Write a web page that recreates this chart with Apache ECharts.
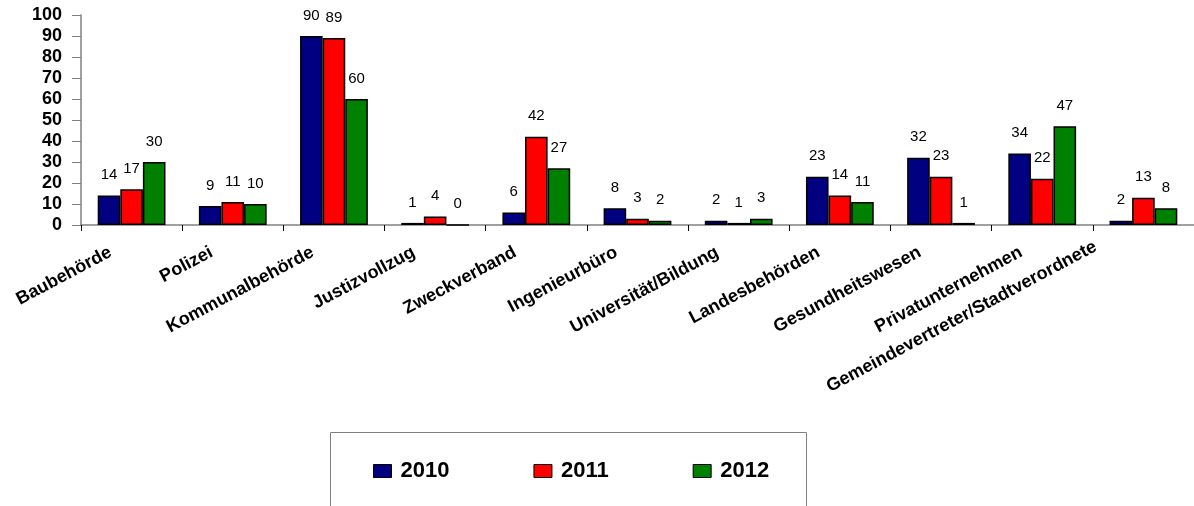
<!DOCTYPE html>
<html>
<head>
<meta charset="utf-8">
<script src="https://cdn.jsdelivr.net/npm/echarts@6/dist/echarts.min.js"></script>
<style>
  html, body { margin: 0; padding: 0; background: #ffffff; }
  #chart { width: 1194px; height: 506px; }
</style>
</head>
<body>
<div id="chart"></div>
<script>
// Categories (x axis)
const categories = [
  'Baubehörde', 'Polizei', 'Kommunalbehörde', 'Justizvollzug', 'Zweckverband',
  'Ingenieurbüro', 'Universität/Bildung', 'Landesbehörden', 'Gesundheitswesen',
  'Privatunternehmen', 'Gemeindevertreter/Stadtverordnete'
];

// Values per year
const values2010 = [14, 9, 90, 1, 6, 8, 2, 23, 32, 34, 2];
const values2011 = [17, 11, 89, 4, 42, 3, 1, 14, 23, 22, 13];
const values2012 = [30, 10, 60, 0, 27, 2, 3, 11, 1, 47, 8];

const seriesNames = ['2010', '2011', '2012'];
const seriesColors = ['#000080', '#FF0000', '#008000'];
const seriesValues = [values2010, values2011, values2012];

const FONT = '"Liberation Sans", Arial, sans-serif';

const chart = echarts.init(document.getElementById('chart'), null, { renderer: 'canvas' });

const series = seriesNames.map((name, i) => ({
  name: name,
  type: 'bar',
  data: seriesValues[i],
  barGap: '0%',
  barCategoryGap: '33%',
  itemStyle: { color: seriesColors[i], borderColor: '#000000', borderWidth: 1.5 },
  label: {
    show: true,
    position: 'top',
    distance: 13,
    color: '#000000',
    fontFamily: FONT,
    fontSize: 15
  },
  emphasis: { disabled: true }
}));

const lastIndex = categories.length - 1;

chart.setOption({
  animation: false,
  backgroundColor: '#ffffff',
  grid: { left: 81, right: 0, top: 15, bottom: 281, containLabel: false },
  legend: {
    data: seriesNames,
    left: 373,
    top: 460,
    padding: 0,
    itemWidth: 18,
    itemHeight: 13,
    itemGap: 84,
    icon: 'rect',
    itemStyle: { borderColor: '#000000', borderWidth: 1 },
    textStyle: { fontFamily: FONT, fontSize: 22, fontWeight: 'bold', color: '#000000', padding: [0, 0, 0, 4] }
  },
  graphic: [{
    type: 'rect',
    shape: { x: 330.5, y: 432.5, width: 476, height: 90 },
    style: { fill: 'none', stroke: '#808080', lineWidth: 1 },
    silent: true,
    z: -1
  }],
  xAxis: {
    type: 'category',
    data: categories,
    axisLine: { show: true, lineStyle: { color: '#808080', width: 1.5 } },
    axisTick: { show: true, alignWithLabel: false, length: 6, lineStyle: { color: '#000000', width: 1 } },
    axisLabel: {
      interval: 0,
      rotate: 28,
      margin: 15,
      padding: [0, 24, 0, 0],
      color: '#000000',
      fontFamily: FONT,
      fontSize: 18,
      fontWeight: 'bold',
      // the long last label is pulled back and up so it clears the right edge
      formatter: (value, idx) => idx === lastIndex ? '{far|' + value + '}' : value,
      rich: {
        far: {
          fontFamily: FONT,
          fontSize: 18,
          fontWeight: 'bold',
          color: '#000000',
          padding: [0, 21, 35, 0]
        }
      }
    },
    splitLine: { show: false }
  },
  yAxis: {
    type: 'value',
    min: 0,
    max: 100,
    interval: 10,
    axisLine: { show: true, lineStyle: { color: '#808080', width: 1.5 } },
    axisTick: { show: true, inside: false, length: 9, lineStyle: { color: '#808080', width: 1 } },
    axisLabel: {
      margin: 19,
      color: '#000000',
      fontFamily: FONT,
      fontSize: 18,
      fontWeight: 'bold'
    },
    splitLine: { show: false }
  },
  series: series
});
</script>
</body>
</html>
